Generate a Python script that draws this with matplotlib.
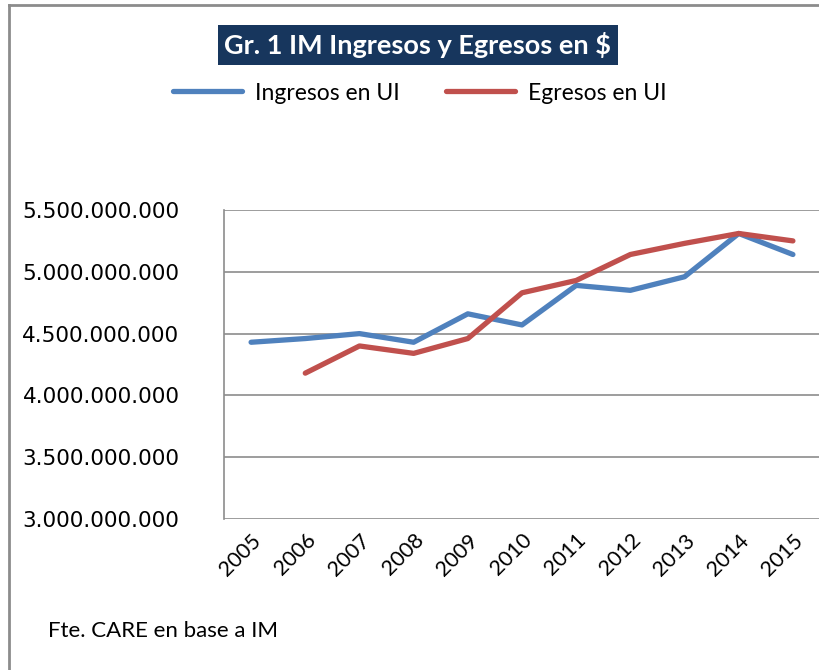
import numpy as np
import matplotlib.pyplot as plt
from matplotlib.lines import Line2D
from matplotlib.ticker import FuncFormatter

years = ["2005", "2006", "2007", "2008", "2009", "2010",
         "2011", "2012", "2013", "2014", "2015"]
ingresos = [4.43e9, 4.46e9, 4.50e9, 4.43e9, 4.66e9, 4.57e9,
            4.89e9, 4.85e9, 4.96e9, 5.31e9, 5.14e9]
egresos = [np.nan, 4.18e9, 4.40e9, 4.34e9, 4.46e9, 4.83e9,
           4.93e9, 5.14e9, 5.23e9, 5.31e9, 5.25e9]

BLUE = "#4F81BD"
RED = "#C0504D"
GRID = "#8C8C8C"
FONT = ["Lato", "DejaVu Sans"]

plt.rcParams["font.family"] = FONT

fig = plt.figure(figsize=(8.2, 6.7), dpi=100)
ax = fig.add_axes([224 / 820, 1 - 519 / 670, 1 - 224 / 820, (519 - 210) / 670])

x = np.arange(len(years))
ax.plot(x, ingresos, color=BLUE, lw=3.8, solid_capstyle="round", label="Ingresos en UI")
ax.plot(x, egresos, color=RED, lw=3.8, solid_capstyle="round", label="Egresos en UI")

ax.set_xlim(-0.5, len(years) - 0.5)
ax.set_ylim(3.0e9, 5.5e9)
ax.set_yticks(np.arange(3.0e9, 5.5e9 + 1, 0.5e9))
ax.yaxis.set_major_formatter(FuncFormatter(lambda v, p: f"{v:,.0f}".replace(",", ".")))
ax.set_xticks(x)
ax.set_xticklabels(years, rotation=45, ha="right", va="top", rotation_mode="anchor")
for lbl in ax.get_yticklabels():
    lbl.set_family("DejaVu Sans")
ax.tick_params(axis="y", length=0, pad=32, labelsize=15.5)
ax.tick_params(axis="x", length=0, pad=8, labelsize=15.5)
ax.grid(axis="y", color=GRID, lw=1.2)
ax.set_axisbelow(True)
for s in ["top", "right", "bottom"]:
    ax.spines[s].set_visible(False)
ax.spines["left"].set_color(GRID)
ax.spines["left"].set_linewidth(1.2)

# chart frame (left and top edges visible)
fig.add_artist(Line2D([9 / 820, 9 / 820], [0, 1 - 5 / 670], color="#8C8C8C", lw=2))
fig.add_artist(Line2D([9 / 820, 1], [1 - 5 / 670, 1 - 5 / 670], color="#8C8C8C", lw=2))

fig.text(418 / 820, 1 - 45 / 670, "Gr. 1 IM Ingresos y Egresos en $",
         ha="center", va="center", color="white", fontsize=19.5, fontweight="bold",
         bbox=dict(boxstyle="square,pad=0.25", facecolor="#17365D", edgecolor="none"))

handles, labels = ax.get_legend_handles_labels()
fig.legend(handles, labels, loc="center", bbox_to_anchor=(420 / 820, 1 - 93 / 670),
           ncol=2, frameon=False, fontsize=16.5, handlelength=3.0,
           columnspacing=2.0, handletextpad=0.6)

fig.text(48 / 820, 1 - 631 / 670, "Fte. CARE en base a IM", ha="left", va="center",
         fontsize=16)

fig.savefig("out.png", dpi=100)
